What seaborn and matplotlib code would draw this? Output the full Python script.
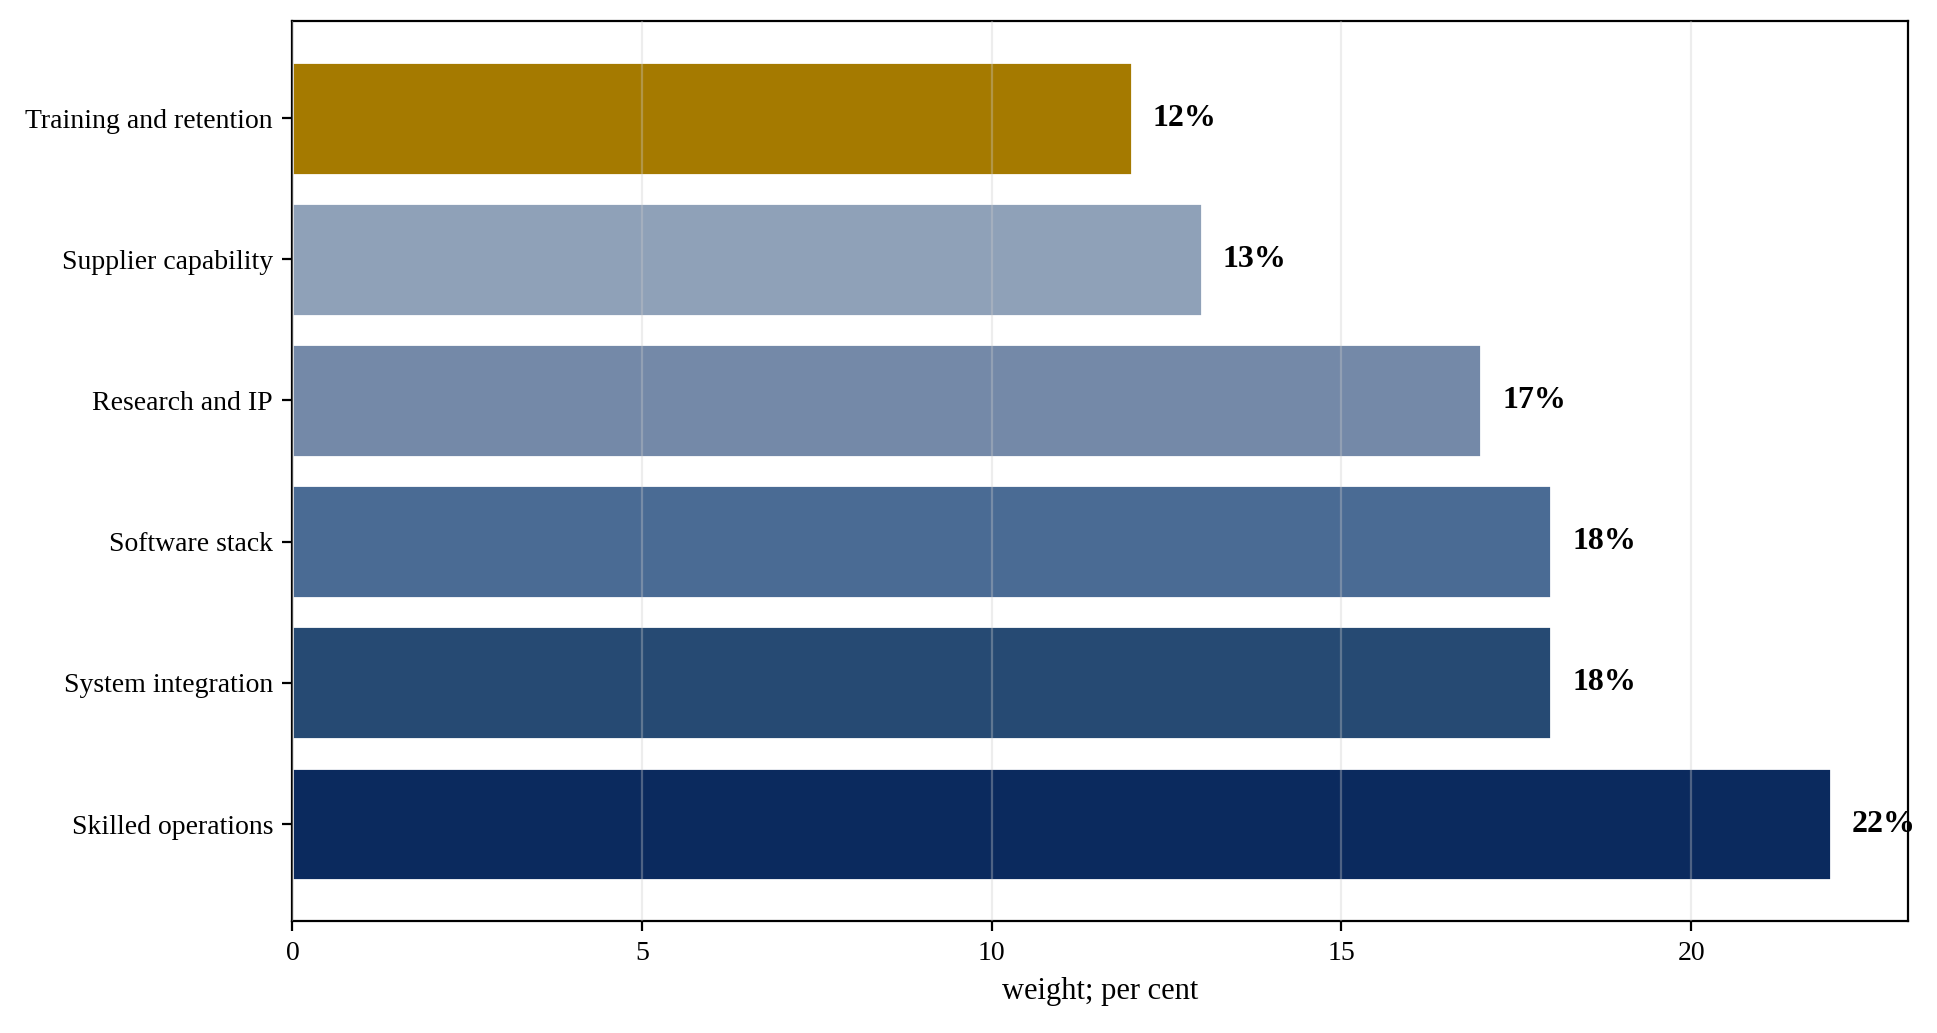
import matplotlib
matplotlib.use("Agg")
import matplotlib.pyplot as plt
import pandas as pd
import seaborn as sns

# categories listed top to bottom as shown
categories = ['Training and retention', 'Supplier capability', 'Research and IP',
              'Software stack', 'System integration', 'Skilled operations']
weights = [12, 13, 17, 18, 18, 22]
bar_colors = ['#A57A00', '#8FA1B8', '#7489A8', '#4A6B94', '#264A73', '#0B2A5E']

df = pd.DataFrame({'category': categories, 'weight': weights})

sns.set_style('white')
plt.rcParams['font.family'] = ['Liberation Serif', 'DejaVu Serif']
plt.rcParams['text.color'] = 'black'
plt.rcParams['axes.labelcolor'] = 'black'
plt.rcParams['xtick.color'] = 'black'
plt.rcParams['ytick.color'] = 'black'

fig, ax = plt.subplots(figsize=(9.685, 5.165), dpi=200)
sns.barplot(data=df, y='category', x='weight', hue='category', palette=bar_colors,
            order=categories, hue_order=categories, orient='h', width=0.8,
            saturation=1, legend=False, ax=ax)

# value labels
for i, v in enumerate(weights):
    ax.text(v + 0.3, i, f'{v}%', va='center', ha='left', fontsize=11.5,
            fontweight='bold', color='black')

ax.set_xlim(0, max(weights) * 1.05)
ax.set_ylim(5.69, -0.69)
ax.xaxis.grid(True, color='#cccccc', alpha=0.35, linewidth=0.8)
ax.set_axisbelow(False)
for s in ax.spines.values():
    s.set_visible(True)
    s.set_color('black')
    s.set_linewidth(0.8)

ax.tick_params(axis='both', which='major', length=3.5, width=0.8, labelsize=10,
               bottom=True, left=True, color='black', labelcolor='black')
ax.set_ylabel('')
ax.set_xlabel('weight; per cent', fontsize=11)

plt.subplots_adjust(left=0.151, right=0.985, top=0.98, bottom=0.108)
fig.savefig('out.png', dpi=200)
